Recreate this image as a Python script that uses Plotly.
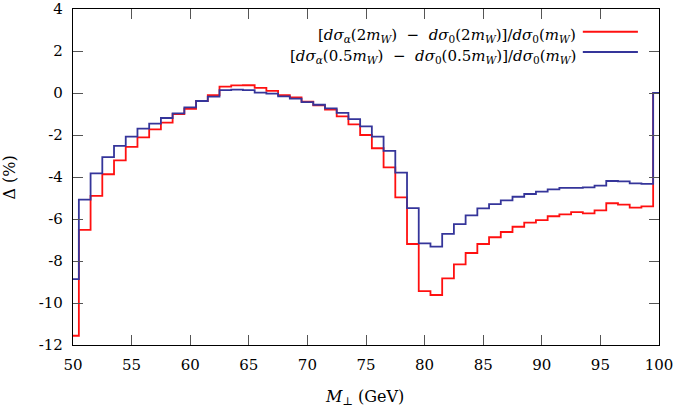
import plotly.graph_objects as go

mass = list(range(50, 101))
delta_2mw = [-11.56, -6.52, -4.90, -3.87, -3.21, -2.57, -2.11, -1.73, -1.41, -1.00,
             -0.75, -0.38, -0.10, 0.30, 0.36, 0.37, 0.24, 0.10, -0.10, -0.21,
             -0.41, -0.59, -0.79, -1.11, -1.49, -2.00, -2.63, -3.54, -4.97, -7.19,
             -9.43, -9.62, -8.83, -8.16, -7.62, -7.19, -6.87, -6.62, -6.37, -6.17,
             -6.05, -5.87, -5.78, -5.67, -5.73, -5.59, -5.25, -5.32, -5.46, -5.40,
             0.0]
delta_05mw = [-8.86, -5.08, -3.83, -3.05, -2.52, -2.08, -1.70, -1.46, -1.19, -0.97,
              -0.68, -0.38, -0.17, 0.14, 0.16, 0.14, 0.02, -0.03, -0.16, -0.27,
              -0.43, -0.56, -0.73, -0.95, -1.24, -1.59, -2.08, -2.76, -3.79, -5.48,
              -7.16, -7.32, -6.71, -6.24, -5.83, -5.49, -5.29, -5.11, -4.94, -4.81,
              -4.70, -4.59, -4.52, -4.52, -4.49, -4.41, -4.19, -4.21, -4.30, -4.33,
              0.0]
xticks = [50, 55, 60, 65, 70, 75, 80, 85, 90, 95, 100]
yticks = [4, 2, 0, -2, -4, -6, -8, -10, -12]
ytick_labels = ["4", "2", "0", "-2", "-4", "-6", "-8", "-10", "-12"]

label_2mw = ("[<i>dσ</i><sub><i>α</i></sub>(2<i>m</i><sub><i>W</i></sub>)  −  "
             "<i>dσ</i><sub>0</sub>(2<i>m</i><sub><i>W</i></sub>)]/"
             "<i>dσ</i><sub>0</sub>(<i>m</i><sub><i>W</i></sub>)")
label_05mw = ("[<i>dσ</i><sub><i>α</i></sub>(0.5<i>m</i><sub><i>W</i></sub>)  −  "
              "<i>dσ</i><sub>0</sub>(0.5<i>m</i><sub><i>W</i></sub>)]/"
              "<i>dσ</i><sub>0</sub>(<i>m</i><sub><i>W</i></sub>)")

RED = "#ff1010"
BLUE = "#35359a"
FONT = "DejaVu Serif"

fig = go.Figure()
fig.add_trace(go.Scatter(x=mass, y=delta_2mw, mode="lines", line=dict(color=RED, width=1.8, shape="hvh"),
                         showlegend=False))
fig.add_trace(go.Scatter(x=mass, y=delta_05mw, mode="lines", line=dict(color=BLUE, width=1.8, shape="hvh"),
                         showlegend=False))

axis_common = dict(showgrid=False, zeroline=False, showline=True, linecolor="black", linewidth=1.2,
                   mirror="allticks", ticks="inside", ticklen=10, tickcolor="#555555", tickwidth=1,
                   automargin=False,
                   tickfont=dict(family=FONT, size=15, color="black"))
fig.update_xaxes(range=[50, 100], tickvals=xticks, ticktext=[str(v) for v in xticks], ticklabelstandoff=6,
                 **axis_common)
fig.update_yaxes(range=[-12, 4], tickvals=yticks, ticktext=ytick_labels, ticklabelstandoff=6, **axis_common)

# manual legend (text right-aligned, sample line on the right)
for label, color, yy, ly in [(label_2mw, RED, 0.920, 0.932), (label_05mw, BLUE, 0.858, 0.872)]:
    fig.add_annotation(x=0.862, y=yy, xref="paper", yref="paper", text=label, showarrow=False,
                       xanchor="right", yanchor="middle", font=dict(family=FONT, size=15, color="black"))
    fig.add_shape(type="line", xref="paper", yref="paper", x0=0.870, x1=0.964, y0=ly, y1=ly,
                  line=dict(color=color, width=2))

fig.add_annotation(x=0.498, y=-0.155, xref="paper", yref="paper", text="<i>M</i><sub>⊥</sub> (GeV)",
                   showarrow=False, xanchor="center", yanchor="middle", font=dict(family=FONT, size=16, color="black"))
fig.add_annotation(x=-0.11, y=0.497, xref="paper", yref="paper", text="Δ (%)", textangle=-90,
                   showarrow=False, xanchor="center", yanchor="middle", font=dict(family=FONT, size=16, color="black"))

fig.update_layout(width=677, height=409, margin=dict(l=73, r=18, t=9, b=64),
                  plot_bgcolor="white", paper_bgcolor="white", showlegend=False)
fig.write_html("out.html", config={"displayModeBar": False},
               post_script="document.body.style.margin='0px';")
